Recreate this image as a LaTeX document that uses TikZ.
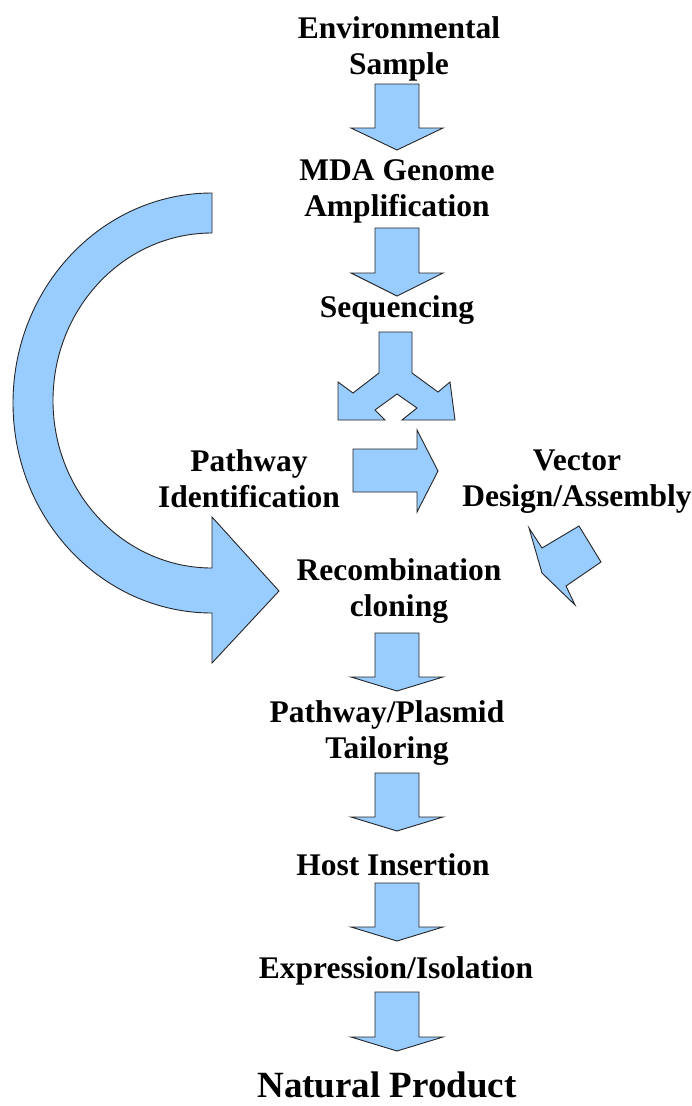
\documentclass[tikz,border=0pt]{standalone}
\usepackage{fontspec}
\setmainfont{Liberation Serif}
\definecolor{arrowblue}{HTML}{99CCFF}
\tikzset{
  blockarrow/.style={fill=arrowblue, draw=black!85, line width=0.9pt, line join=miter},
  label/.style={font=\bfseries\fontsize{31.5}{36}\selectfont, align=center, inner sep=0pt},
  biglabel/.style={font=\bfseries\fontsize{37}{44}\selectfont, align=center, inner sep=0pt}
}
\newcommand\myDownArrow[4]{% x, top, shoulder, tip (pixel, y down)
  \path[blockarrow] (#1-22,-#2) -- (#1+22,-#2) -- (#1+22,-#3) -- (#1+46,-#3) -- (#1,-#4) -- (#1-46,-#3) -- (#1-22,-#3) -- cycle;
}
\begin{document}
\begin{tikzpicture}[x=1pt,y=1pt]
\useasboundingbox (0,0) rectangle (692,-1106);

% text nodes
\node[label] (env) at (399,-49) {Environmental\\Sample};
\node[label] (mda) at (397,-191) {MDA Genome\\Amplification};
\node[label] (seq) at (397,-310) {Sequencing};
\node[label] (path) at (249,-479) {Pathway\\Identification};
\node[label] (vec) at (577,-482) {Vector\\Design/Assembly};
\node[label] (rec) at (399,-591) {Recombination\\cloning};
\node[label] (tail) at (387,-733) {Pathway/Plasmid\\Tailoring};
\node[label] (host) at (393,-865) {Host Insertion};
\node[label] (expr) at (396,-971) {Expression/Isolation};
\node[biglabel, anchor=base] (nat) at (387,-1097) {Natural Product};

% straight down arrows
\myDownArrow{397}{84}{128}{150}
\myDownArrow{397}{228}{273}{296}
\myDownArrow{397}{633}{677}{691}
\myDownArrow{397}{773}{817}{831}
\myDownArrow{397}{883}{927}{941}
\myDownArrow{397}{992}{1037}{1051}

% split arrow
\path[blockarrow] (379,-332) -- (412,-332) -- (412,-373) -- (438,-392) -- (450,-382) -- (455,-420) -- (402,-420) -- (417,-408) -- (397,-394) -- (375,-410) -- (385,-420) -- (338,-420) -- (338,-382) -- (353,-393) -- (379,-373) -- cycle;

% right arrow
\path[blockarrow] (353,-449) -- (417,-449) -- (417,-430) -- (438,-471) -- (417,-512) -- (417,-492) -- (353,-492) -- cycle;

% angled arrow
\path[blockarrow] (579,-526) -- (601,-562) -- (566,-586) -- (575,-605) -- (542,-573) -- (529,-528) -- (542,-548) -- cycle;

% curved arrow
\path[blockarrow] (212,-193) arc[start angle=90, end angle=270, x radius=199, y radius=210]
  -- (212,-663) -- (279,-591) -- (212,-517) -- (212,-568)
  arc[start angle=270, end angle=90, x radius=159, y radius=167.5] -- cycle;
\end{tikzpicture}
\end{document}
